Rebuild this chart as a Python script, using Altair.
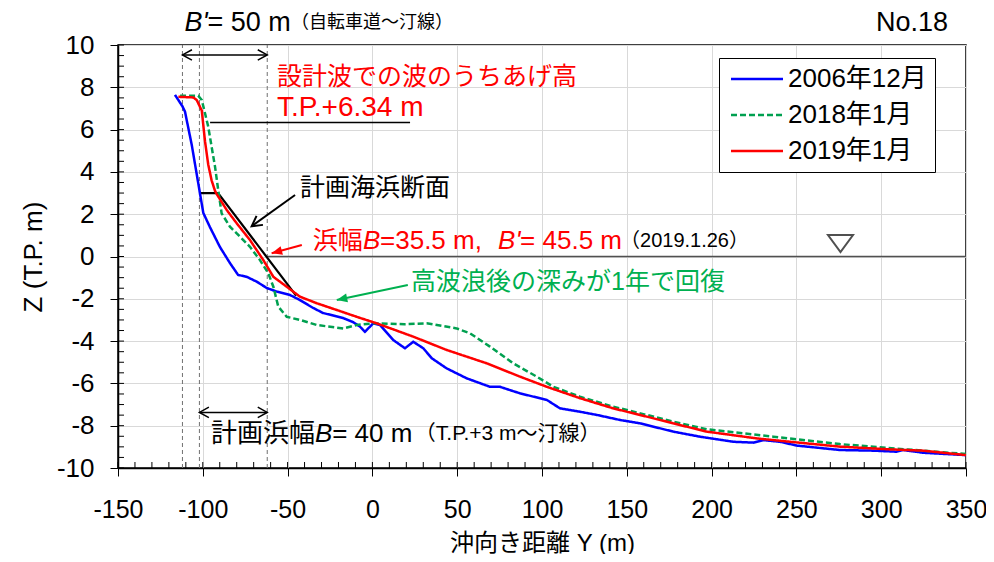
import math
import altair as alt
import pandas as pd

FONT = "Liberation Sans, Noto Sans CJK JP, sans-serif"

# ---------------- data ----------------
series_names = ["2006年12月", "2018年1月", "2019年1月"]
series_colors = ["#0000ff", "#00a050", "#ff0000"]
series_dash = [[1, 0], [6, 3], [1, 0]]

s2006_x = [-116.4, -112, -110.5, -106.5, -101.7, -99.7, -95.8, -89.9, -84, -79.2, -74.1, -68.2,
           -62.3, -56.4, -48.6, -42.7, -35, -29.1, -17.3, -11.4, -7.3, -4.4, 0.5, 4.5, 12.3,
           19.2, 24.1, 30, 35, 43.8, 55.6, 69.3, 75.2, 87, 102.8, 110.6, 122.4, 132.3, 146,
           157.9, 177.4, 193.2, 212.8, 224.6, 230.5, 240.3, 250.2, 275.7, 295.3, 309.1, 313,
           324.8, 350]
s2006_z = [7.64, 7.1, 6.85, 5.27, 3.0, 2.06, 1.39, 0.45, -0.31, -0.87, -0.96, -1.19,
           -1.49, -1.66, -1.82, -2.06, -2.43, -2.67, -2.91, -3.1, -3.32, -3.56, -3.16, -3.24, -3.95,
           -4.34, -4.03, -4.34, -4.81, -5.29, -5.76, -6.16, -6.16, -6.47, -6.78, -7.18, -7.34, -7.49, -7.73,
           -7.89, -8.28, -8.52, -8.76, -8.8, -8.68, -8.76, -8.94, -9.15, -9.18, -9.23, -9.15,
           -9.28, -9.39]

s2018_x = [-113.4, -102.7, -100.6, -98.7, -96.8, -94.8, -92.8, -90.9, -88.9, -84, -78.1, -72.2,
           -66.3, -61.4, -58.4, -55.5, -50.5, -42.7, -32.8, -17.2, -9.3, 0.4, 19, 32, 49.7,
           57.5, 69.3, 83, 96.9, 106.7, 122.4, 142, 161.7, 177.4, 197.1, 236.4, 275.7, 315, 350]
s2018_z = [7.6, 7.6, 7.4, 6.77, 6.14, 5.19, 4.25, 3.14, 2.04, 1.41, 0.94, 0.46,
           -0.17, -0.79, -1.43, -2.37, -2.85, -3.0, -3.24, -3.4, -3.24, -3.16, -3.2, -3.16, -3.4,
           -3.63, -4.26, -5.05, -5.68, -6.16, -6.63, -7.1, -7.49, -7.81, -8.17, -8.52, -8.87, -9.12, -9.34]

s2019_x = [-114.4, -105.6, -103.6, -100.6, -98.7, -96.8, -94.8, -92.8, -91.8, -85.9, -80, -72.2,
           -64.3, -58.4, -50.5, -42.7, -32.8, -21, -9.3, 2.5, 24.1, 43.8, 67.4, 87, 102.8,
           122.4, 142, 161.7, 177.4, 197.1, 226.6, 246.3, 275.7, 305.2, 324.6, 350]
s2019_z = [7.55, 7.52, 7.4, 6.9, 5.45, 4.35, 3.6, 3.1, 2.95, 2.2, 1.57, 0.78,
           -0.17, -0.96, -1.43, -1.9, -2.21, -2.53, -2.85, -3.16, -3.79, -4.42, -5.05, -5.68, -6.16,
           -6.7, -7.18, -7.57, -7.89, -8.28, -8.6, -8.76, -8.99, -9.12, -9.18, -9.39]

plan_x = [-102, -91, -45]
plan_z = [3, 3, -1.85]

guide_x = [-112, -102, -62]          # dashed vertical guide lines
waterline = {"x": -62, "x2": 350, "y": 0}
runup = {"x": -95.7, "x2": 22.2, "y": 6.34}
triangle_mark = {"x": 276, "y": 0.61}

x_ticks = list(range(-150, 351, 50))
y_ticks = list(range(-10, 11, 2))
x_minor = list(range(-150, 351, 10))
y_minor = [v / 2 for v in range(-20, 21)]

# double arrows: (x_left, x_right, y)
dbl_arrows = [(-112, -62, 9.53), (-102, -62, -7.37)]
# single arrows: (x_start, y_start, x_tip, y_tip, color, filled)
sgl_arrows = [(-45.6, 2.91, -71.2, 1.43, "black", False),
              (-41.6, 0.54, -59.4, 0.15, "#ff0000", True),
              (20.9, -1.35, -21.0, -2.06, "#00b050", True)]

# text pieces: text, x, y, size, color, style, align
TOP_Y = 11.02
ann = [
    ("B'", -110.8, TOP_Y, 27, "black", "italic", "left"),
    ("= 50 m", -97.3, TOP_Y, 27, "black", "normal", "left"),
    ("（自転車道～汀線）", -48.0, TOP_Y, 18, "black", "normal", "left"),
    ("No.18", 339.4, TOP_Y, 27, "black", "normal", "right"),
    ("設計波での波のうちあげ高", -56.3, 8.49, 25, "#ff0000", "normal", "left"),
    ("T.P.+6.34 m", -56.3, 7.02, 28, "#ff0000", "normal", "left"),
    ("計画海浜断面", -42.7, 3.24, 25, "black", "normal", "left"),
    ("浜幅", -35.1, 0.73, 25, "#ff0000", "normal", "left"),
    ("B", -5.5, 0.73, 26, "#ff0000", "italic", "left"),
    ("=35.5 m,", 4.5, 0.73, 26, "#ff0000", "normal", "left"),
    ("B'", 74.1, 0.73, 26, "#ff0000", "italic", "left"),
    ("= 45.5 m", 87.1, 0.73, 26, "#ff0000", "normal", "left"),
    ("（2019.1.26）", 146.0, 0.73, 20, "black", "normal", "left"),
    ("高波浪後の深みが1年で回復", 22.8, -1.21, 25, "#00b050", "normal", "left"),
    ("計画浜幅", -95.1, -8.39, 26, "black", "normal", "left"),
    ("B", -33.9, -8.39, 26, "black", "italic", "left"),
    ("= 40 m", -23.7, -8.39, 26, "black", "normal", "left"),
    ("（T.P.+3 m～汀線）", 25.0, -8.39, 21, "black", "normal", "left"),
]

# ---------------- geometry ----------------
W, H = 848, 423
XD, YD = [-150, 350], [-10, 10]
sx = W / (XD[1] - XD[0])
sy = H / (YD[1] - YD[0])

xs = alt.Scale(domain=XD, nice=False, zero=False)
ys = alt.Scale(domain=YD, nice=False, zero=False)

x_axis = alt.Axis(values=x_ticks, title="沖向き距離 Y (m)", labelFontSize=25,
                  labelPadding=21, titleFontSize=24, titlePadding=9,
                  labelFlush=False, labelOverlap=False, grid=True,
                  labelExpr="'' + datum.value")
y_axis = alt.Axis(values=y_ticks, title="Z (T.P.  m)", labelFontSize=26,
                  labelPadding=16, titleFontSize=26, titlePadding=10,
                  labelFlush=False, labelOverlap=False, grid=True,
                  labelExpr="'' + datum.value")


def X(f="x"):
    return alt.X(f"{f}:Q", scale=xs, axis=x_axis)


def Y(f="y"):
    return alt.Y(f"{f}:Q", scale=ys, axis=y_axis)


frames = []
for name, xv, zv in [(series_names[0], s2006_x, s2006_z),
                     (series_names[1], s2018_x, s2018_z),
                     (series_names[2], s2019_x, s2019_z)]:
    frames.append(pd.DataFrame({"x": xv, "y": zv, "series": name}))
profiles = pd.concat(frames, ignore_index=True)

legend = alt.Legend(title=None, orient="none", legendX=601, legendY=13,
                    symbolType="M -1.8 0 L 8.6 0", symbolSize=100, symbolStrokeWidth=2.5,
                    labelFontSize=26, labelFont=FONT, labelColor="black", padding=8,
                    rowPadding=10, labelOffset=35, strokeColor="black", fillColor="white",
                    cornerRadius=0, labelLimit=300)

lines = alt.Chart(profiles).mark_line(strokeWidth=2.5).encode(
    x=X(), y=Y(),
    color=alt.Color("series:N", scale=alt.Scale(domain=series_names, range=series_colors),
                    legend=legend),
    strokeDash=alt.StrokeDash("series:N", scale=alt.Scale(domain=series_names, range=series_dash),
                              legend=legend),
    detail="series:N",
)

layers = []

# minor / inward ticks
layers.append(alt.Chart(pd.DataFrame({"x": x_minor})).mark_rule(color="black", strokeWidth=1).encode(
    x=X(), y=alt.value(H), y2=alt.value(H - 6)))
layers.append(alt.Chart(pd.DataFrame({"y": y_minor})).mark_rule(color="black", strokeWidth=1).encode(
    y=Y(), x=alt.value(0), x2=alt.value(6)))

# dashed guide verticals
layers.append(alt.Chart(pd.DataFrame({"x": guide_x, "y": [YD[0]] * 3, "y2": [YD[1]] * 3}))
              .mark_rule(color="#707070", strokeWidth=1, strokeDash=[4, 3])
              .encode(x=X(), y=Y(), y2="y2:Q"))

# waterline and run-up line
layers.append(alt.Chart(pd.DataFrame([waterline])).mark_rule(color="#505050", strokeWidth=1.5)
              .encode(x=X(), x2="x2:Q", y=Y()))
layers.append(alt.Chart(pd.DataFrame([runup])).mark_rule(color="black", strokeWidth=1.5)
              .encode(x=X(), x2="x2:Q", y=Y()))

# plan profile
layers.append(alt.Chart(pd.DataFrame({"x": plan_x, "y": plan_z})).mark_line(color="black", strokeWidth=2.2)
              .encode(x=X(), y=Y()))

layers.append(lines)

# water level triangle
layers.append(alt.Chart(pd.DataFrame([triangle_mark])).mark_point(
    shape="M -1 -0.68 L 1 -0.68 L 0 0.68 Z", size=625, filled=False, color="#505050",
    strokeWidth=2, opacity=1).encode(x=X(), y=Y()))

CHEVRON = "M -2 -1.1 L 0 0 L -2 1.1"
HEAD = "M 0 0 L -2 -0.85 L -2 0.85 Z"

# double arrows
for xl, xr, yy in dbl_arrows:
    layers.append(alt.Chart(pd.DataFrame([{"x": xl, "x2": xr, "y": yy}]))
                  .mark_rule(color="black", strokeWidth=1.5).encode(x=X(), x2="x2:Q", y=Y()))
    for xx, ang in [(xr, 0), (xl, 180)]:
        layers.append(alt.Chart(pd.DataFrame([{"x": xx, "y": yy}]))
                      .mark_point(shape=CHEVRON, size=90, filled=False, color="black",
                                  strokeWidth=1.5, angle=ang, opacity=1)
                      .encode(x=X(), y=Y()))

# single arrows
for x0, y0, x1, y1, col, filled in sgl_arrows:
    ang = math.degrees(math.atan2(-(y1 - y0) * sy, (x1 - x0) * sx)) % 360
    layers.append(alt.Chart(pd.DataFrame([{"x": x0, "y": y0, "x2": x1, "y2": y1}]))
                  .mark_rule(color=col, strokeWidth=2).encode(x=X(), y=Y(), x2="x2:Q", y2="y2:Q"))
    if filled:
        layers.append(alt.Chart(pd.DataFrame([{"x": x1, "y": y1}]))
                      .mark_point(shape=HEAD, size=110, filled=True, color=col, angle=ang, opacity=1)
                      .encode(x=X(), y=Y()))
    else:
        layers.append(alt.Chart(pd.DataFrame([{"x": x1, "y": y1}]))
                      .mark_point(shape=CHEVRON, size=100, filled=False, color=col,
                                  strokeWidth=2, angle=ang, opacity=1)
                      .encode(x=X(), y=Y()))

# text annotations
for t, xx, yy, fs, col, style, al in ann:
    layers.append(alt.Chart(pd.DataFrame([{"x": xx, "y": yy, "t": t}]))
                  .mark_text(align=al, baseline="middle", font=FONT, fontSize=fs, color=col,
                             fontStyle=style)
                  .encode(x=X(), y=Y(), text="t:N"))

chart = alt.layer(*layers).properties(
    width=W, height=H,
    autosize=alt.AutoSizeParams(type="none"),
    padding={"left": 110, "top": 37, "right": 20, "bottom": 86},
    background="white",
).configure_view(stroke="black", strokeWidth=1.5).configure_axis(
    domainColor="black", domainWidth=1.5, tickColor="black", tickSize=8, tickWidth=1,
    gridColor="#d9d9d9", gridWidth=1, labelFont=FONT, titleFont=FONT, labelColor="black",
    titleColor="black", titleFontWeight="normal",
)

chart.save("out.html", embed_options={"renderer": "svg", "actions": False})
